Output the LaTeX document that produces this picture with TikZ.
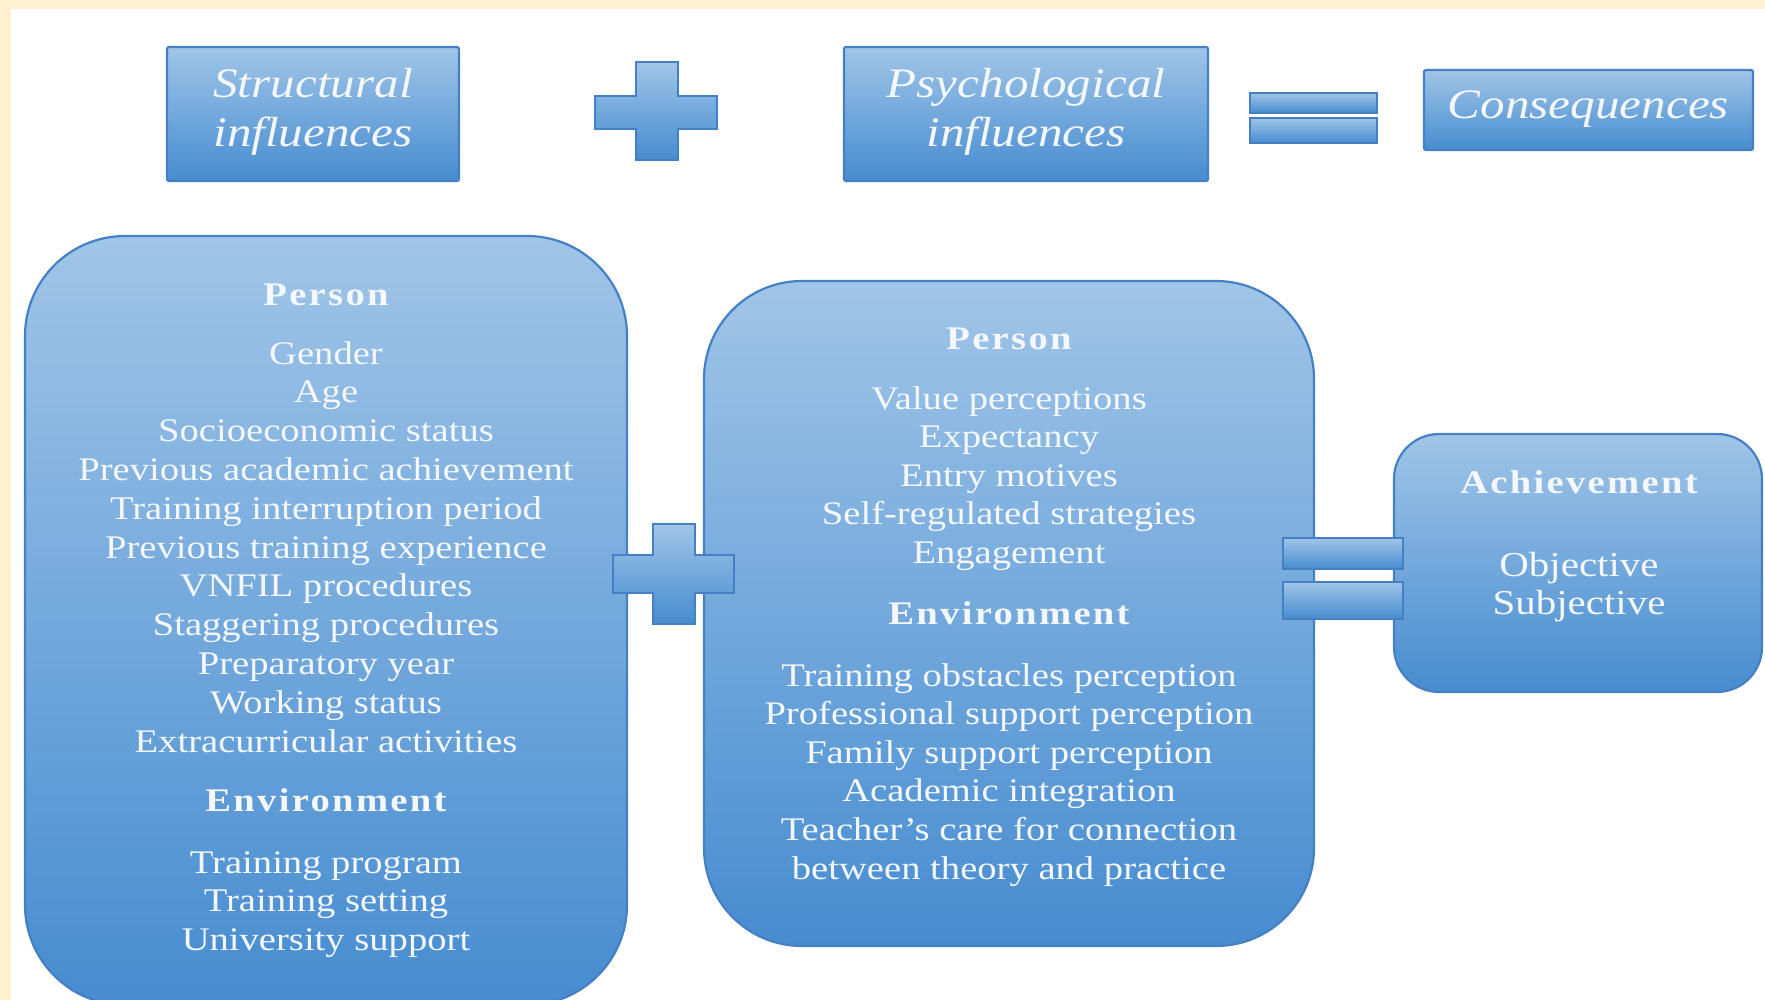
\documentclass[tikz,border=0pt]{standalone}
\usepackage{fontspec}
\setmainfont[FakeStretch=1.17]{Liberation Serif}
\newfontfamily\hdfont[FakeStretch=1.17,LetterSpace=7]{Liberation Serif}
\definecolor{cream}{RGB}{255,241,208}
\definecolor{bdr}{RGB}{70,128,196}
\definecolor{topc}{RGB}{160,197,232}
\definecolor{botc}{RGB}{70,140,208}
\definecolor{txt}{RGB}{244,247,252}
\begin{document}
\begin{tikzpicture}[x=1pt,y=-1pt,
  bigbox/.style={draw=bdr, line width=2.2pt, top color=topc, bottom color=botc, inner sep=0pt},
  topbox/.style={draw=bdr, line width=2.2pt, top color=topc, bottom color=botc, inner sep=0pt, rounded corners=2pt},
  sign/.style={draw=bdr, line width=2pt, top color=topc, bottom color=botc},
  item/.style={text=txt, font=\fontsize{33}{38.6}\selectfont, anchor=base, inner sep=0pt},
  itemr/.style={text=txt, font=\fontsize{35}{38.6}\selectfont, anchor=base, inner sep=0pt},
  hd/.style={text=txt, font=\hdfont\bfseries\fontsize{33}{38.6}\selectfont, anchor=base, inner sep=0pt},
  ttl/.style={text=txt, font=\itshape\fontsize{42}{50}\selectfont, anchor=base, inner sep=0pt}]
\useasboundingbox (0,0) rectangle (1765,1000);
\clip (0,0) rectangle (1765,1000);
\fill[cream] (0,0) rectangle (1765,1000);
\fill[white] (11,9) rectangle (1765,1000);

% top row
\node[topbox, minimum width=292pt, minimum height=134pt] (struct) at (313,114) {};
\node[ttl] (structA) at (313,98) {Structural};
\node[ttl] (structB) at (313,147) {influences};
\node[topbox, minimum width=364pt, minimum height=134pt] (psych) at (1026,114) {};
\node[ttl] (psychA) at (1026,98) {Psychological};
\node[ttl] (psychB) at (1026,147) {influences};
\node[topbox, minimum width=329pt, minimum height=80pt] (cons) at (1588.5,110) {};
\node[ttl] (consA) at (1588.5,119) {Consequences};

\draw[sign] (595,96) -- (636,96) -- (636,62) -- (678,62) -- (678,96) -- (717,96) -- (717,129)
  -- (678,129) -- (678,160) -- (636,160) -- (636,129) -- (595,129) -- cycle;
\draw[sign] (1250,93) rectangle (1377,113);
\draw[sign] (1250,118) rectangle (1377,143);

% big boxes
\node[bigbox, rounded corners=100pt, minimum width=602pt, minimum height=769pt] (lbox) at (326,620.5) {};
\node[bigbox, rounded corners=98pt, minimum width=610pt, minimum height=665pt] (mbox) at (1009,613.5) {};
\node[bigbox, rounded corners=45pt, minimum width=368pt, minimum height=258pt] (rbox) at (1578,563) {};

% middle plus and equal
\draw[sign] (613,555) -- (653,555) -- (653,524) -- (695,524) -- (695,555) -- (734,555) -- (734,593)
  -- (695,593) -- (695,624) -- (653,624) -- (653,593) -- (613,593) -- cycle;
\draw[sign] (1283,538) rectangle (1403,569);
\draw[sign] (1283,582) rectangle (1403,619);

% left box text
\node[hd] (lperson) at (326,306) {Person};
\foreach [count=\i] \t in {Gender,Age,Socioeconomic status,Previous academic achievement,
  Training interruption period,Previous training experience,VNFIL procedures,
  Staggering procedures,Preparatory year,Working status,Extracurricular activities}
  \node[item] (lp\i) at (326,{364+38.8*(\i-1)}) {\t};
\node[hd] (lenv) at (326,811) {Environment};
\foreach [count=\i] \t in {Training program,Training setting,University support}
  \node[item] (le\i) at (326,{873+38.6*(\i-1)}) {\t};

% middle box text
\node[hd] (mperson) at (1009,350) {Person};
\foreach [count=\i] \t in {Value perceptions,Expectancy,Entry motives,Self-regulated strategies,Engagement}
  \node[item] (mp\i) at (1009,{409+38.6*(\i-1)}) {\t};
\node[hd] (menv) at (1009,624) {Environment};
\foreach [count=\i] \t in {Training obstacles perception,Professional support perception,
  Family support perception,Academic integration,Teacher’s care for connection,between theory and practice}
  \node[item] (me\i) at (1009,{686+38.6*(\i-1)}) {\t};

% right box text
\node[hd] (rach) at (1579,493) {Achievement};
\node[itemr] (robj) at (1579,576) {Objective};
\node[itemr] (rsub) at (1579,614) {Subjective};
\end{tikzpicture}
\end{document}
